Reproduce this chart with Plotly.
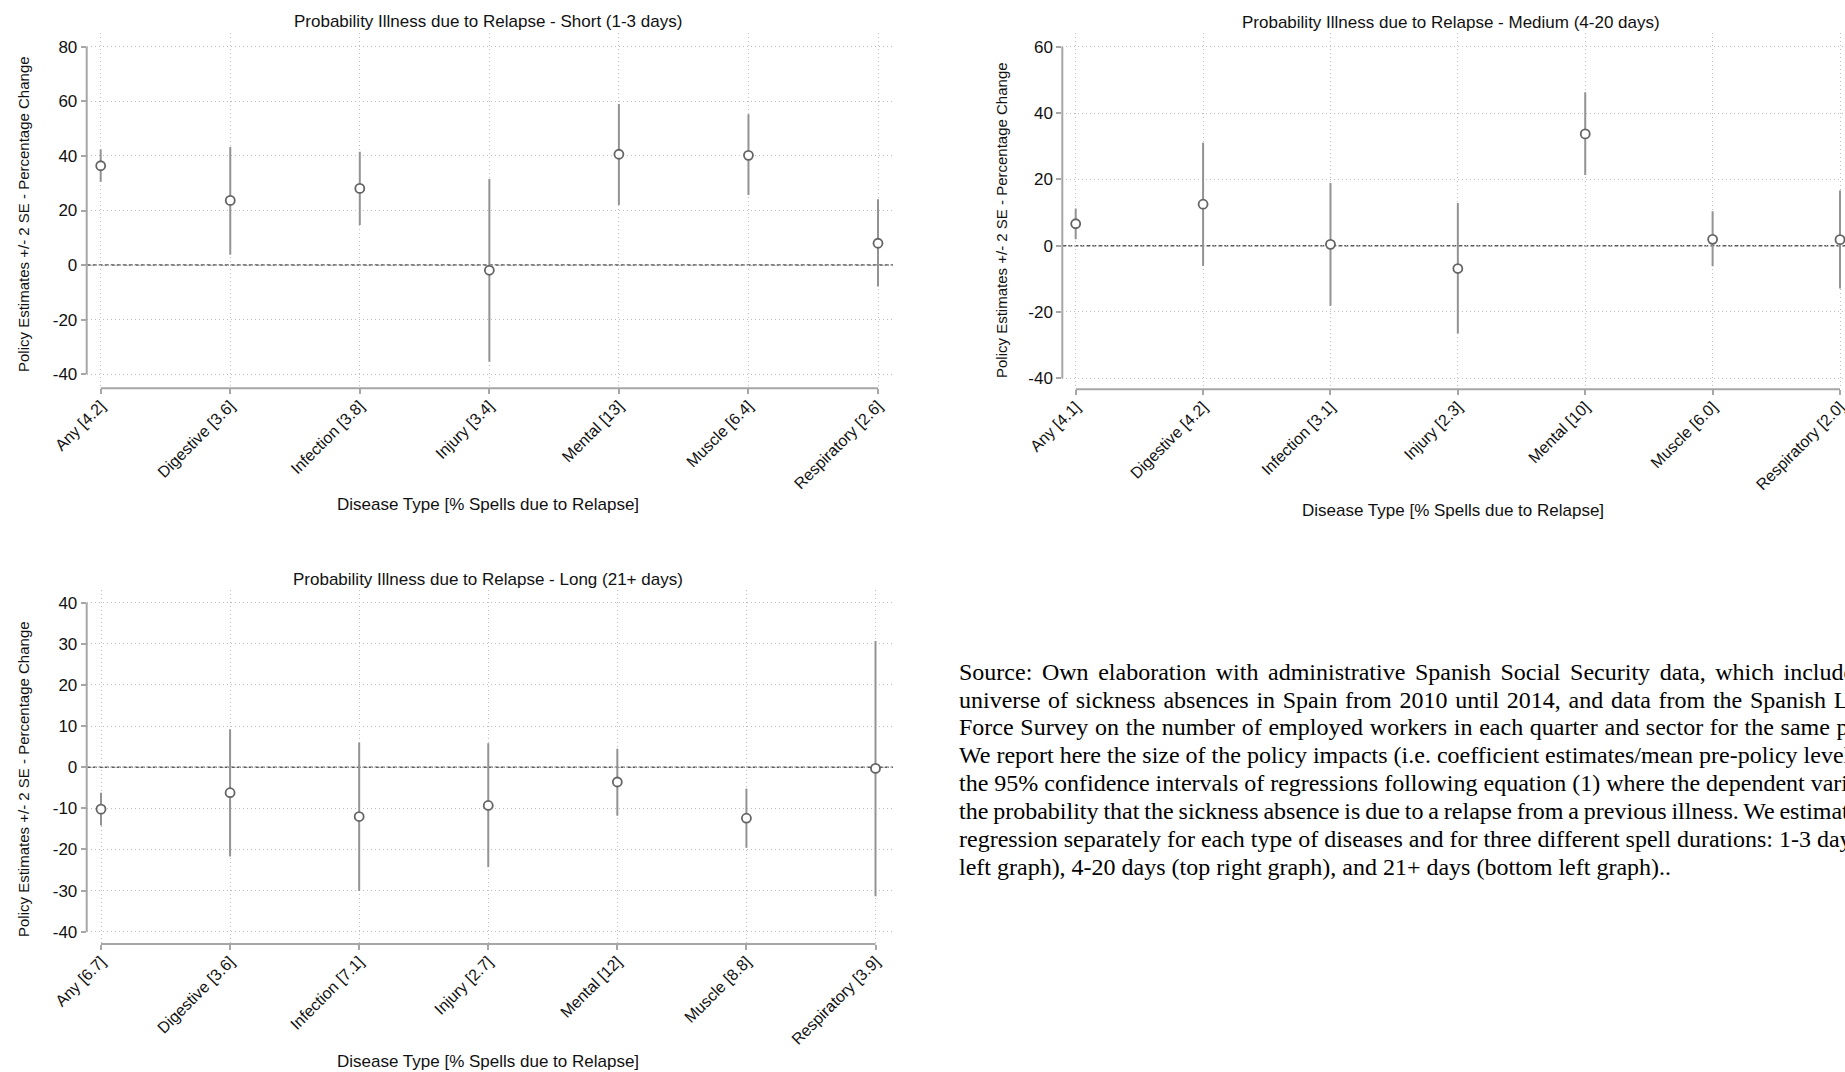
import numpy as np
import plotly.graph_objects as go

W, H = 1845, 1072

# ---------------- data ----------------
positions = [1, 2, 3, 4, 5, 6, 7]

short_labels = ["Any [4.2]", "Digestive [3.6]", "Infection [3.8]", "Injury [3.4]",
                "Mental [13]", "Muscle [6.4]", "Respiratory [2.6]"]
short_est = [36.4, 23.7, 28.1, -1.9, 40.6, 40.2, 8.0]
short_lo = [30.5, 3.8, 14.7, -35.4, 22.0, 25.7, -7.8]
short_hi = [42.3, 43.3, 41.5, 31.5, 59.0, 55.3, 24.1]

medium_labels = ["Any [4.1]", "Digestive [4.2]", "Infection [3.1]", "Injury [2.3]",
                 "Mental [10]", "Muscle [6.0]", "Respiratory [2.0]"]
medium_est = [6.6, 12.5, 0.4, -6.9, 33.7, 1.9, 1.8]
medium_lo = [1.9, -6.1, -18.1, -26.5, 21.3, -6.2, -12.9]
medium_hi = [11.2, 31.0, 18.9, 12.9, 46.3, 10.4, 16.6]

long_labels = ["Any [6.7]", "Digestive [3.6]", "Infection [7.1]", "Injury [2.7]",
               "Mental [12]", "Muscle [8.8]", "Respiratory [3.9]"]
long_est = [-10.2, -6.2, -12.0, -9.3, -3.6, -12.4, -0.3]
long_lo = [-14.2, -21.7, -30.1, -24.3, -11.8, -19.6, -31.4]
long_hi = [-6.2, 9.2, 6.0, 5.8, 4.5, -5.2, 30.7]

short_ticks = [-40, -20, 0, 20, 40, 60, 80]
medium_ticks = [-40, -20, 0, 20, 40, 60]
long_ticks = [-40, -30, -20, -10, 0, 10, 20, 30, 40]

titles = ["Probability Illness due to Relapse - Short (1-3 days)",
          "Probability Illness due to Relapse - Medium (4-20 days)",
          "Probability Illness due to Relapse - Long (21+ days)"]
ytitle = "Policy Estimates +/- 2 SE - Percentage Change"
xtitle = "Disease Type [% Spells due to Relapse]"

note_lines = [
    "Source: Own elaboration with administrative Spanish Social Security data, which includes the",
    "universe of sickness absences in Spain from 2010 until 2014, and data from the Spanish Labour",
    "Force Survey on the number of employed workers in each quarter and sector for the same period.",
    "We report here the size of the policy impacts (i.e. coefficient estimates/mean pre-policy levels) and",
    "the 95% confidence intervals of regressions following equation (1) where the dependent variable is",
    "the probability that the sickness absence is due to a relapse from a previous illness. We estimate the",
    "regression separately for each type of diseases and for three different spell durations: 1-3 days (top",
    "left graph), 4-20 days (top right graph), and 21+ days (bottom left graph)..",
]
note_spacing = [3.6, 1.7, 0.7, 0.0, 0.0, -1.1, 0.0, 0.0]

# ---------------- layout geometry (pixels) ----------------
panels = [
    dict(l=86.7, r=893.0, t=33.0, b=388.3, x1=100.7, x7=878.0, v1=80, p1=46.7, v2=-40, p2=374.3),
    dict(l=1062.3, r=1845.0, t=33.0, b=389.3, x1=1075.7, x7=1840.0, v1=60, p1=46.7, v2=-40, p2=378.3),
    dict(l=86.7, r=893.0, t=590.0, b=944.0, x1=101.0, x7=875.5, v1=40, p1=602.7, v2=-40, p2=931.7),
]
title_pos = [(488, 21), (1451, 22), (488, 579)]
ytitle_pos = [(23, 214), (1002, 220), (23, 779)]
xtitle_pos = [(488, 505), (1453, 510), (488, 1061)]

AXIS_COL = "#a6a6a6"
GRID_COL = "#bdbdbd"
CI_COL = "#939393"
MK_COL = "#646464"
TXT = "#111111"
FONT = "Liberation Sans"

series = [
    (short_labels, short_est, short_lo, short_hi, short_ticks),
    (medium_labels, medium_est, medium_lo, medium_hi, medium_ticks),
    (long_labels, long_est, long_lo, long_hi, long_ticks),
]

fig = go.Figure()
annotations = []
shapes = []

for i, (p, (labels, est, lo, hi, ticks)) in enumerate(zip(panels, series)):
    k = "" if i == 0 else str(i + 1)
    xa, ya = "x" + k, "y" + k
    est_a, lo_a, hi_a = np.array(est), np.array(lo), np.array(hi)
    fig.add_trace(go.Scatter(
        x=positions, y=est, mode="markers", xaxis=xa, yaxis=ya, showlegend=False,
        cliponaxis=False,
        marker=dict(symbol="circle", size=9, color="white",
                    line=dict(color=MK_COL, width=1.8)),
        error_y=dict(type="data", symmetric=False, array=hi_a - est_a,
                     arrayminus=est_a - lo_a, width=0, thickness=2, color=CI_COL),
    ))
    xs = (p["x7"] - p["x1"]) / (positions[-1] - positions[0])
    xr = [positions[0] - (p["x1"] - p["l"]) / xs, positions[0] + (p["r"] - p["x1"]) / xs]
    ys = (p["p2"] - p["p1"]) / (p["v1"] - p["v2"])
    yr = [p["v2"] - (p["b"] - p["p2"]) / ys, p["v1"] + (p["p1"] - p["t"]) / ys]
    xdom = [p["l"] / W, min(1.0, p["r"] / W)]
    ydom = [1 - p["b"] / H, 1 - p["t"] / H]
    xkey = "xaxis" + k
    ykey = "yaxis" + k
    fig.update_layout(**{
        xkey: dict(domain=xdom, range=xr, anchor=ya, tickmode="array",
                   tickvals=positions, ticktext=labels, tickangle=-45,
                   ticks="outside", ticklen=5, tickwidth=1.5, tickcolor=AXIS_COL,
                   ticklabelstandoff=-4, ticklabeloverflow="allow",
                   showline=False, zeroline=False, showgrid=True, griddash="1px,3px",
                   gridcolor=GRID_COL, gridwidth=1, automargin=False,
                   tickfont=dict(family=FONT, size=16, color=TXT)),
        ykey: dict(domain=ydom, range=yr, anchor=xa, tickmode="array",
                   tickvals=ticks, ticktext=[str(t) for t in ticks],
                   ticks="outside", ticklen=5, tickwidth=1.5, tickcolor=AXIS_COL,
                   showline=False, zeroline=False, showgrid=True, griddash="1px,3px",
                   gridcolor=GRID_COL, gridwidth=1, automargin=False,
                   tickfont=dict(family=FONT, size=17, color=TXT)),
    })
    shapes.append(dict(type="line", xref=xa + " domain", yref=ya, x0=0, x1=0,
                       y0=min(ticks), y1=max(ticks), line=dict(color=AXIS_COL, width=2)))
    shapes.append(dict(type="line", xref=xa, yref=ya + " domain", x0=positions[0],
                       x1=positions[-1], y0=0, y1=0, line=dict(color=AXIS_COL, width=2)))
    shapes.append(dict(type="line", xref=xa + " domain", yref=ya, x0=0, x1=1, y0=0, y1=0,
                       line=dict(color="#5a5a5a", width=1.5, dash="4px,2px"), layer="below"))
    tx, ty = title_pos[i]
    annotations.append(dict(text=titles[i], x=tx / W, y=1 - ty / H, xref="paper", yref="paper",
                            xanchor="center", yanchor="middle", showarrow=False,
                            font=dict(family=FONT, size=17, color=TXT)))
    yx, yy = ytitle_pos[i]
    annotations.append(dict(text=ytitle, x=yx / W, y=1 - yy / H, xref="paper", yref="paper",
                            xanchor="center", yanchor="middle", showarrow=False, textangle=-90,
                            font=dict(family=FONT, size=15, color=TXT)))
    xx, xy = xtitle_pos[i]
    annotations.append(dict(text=xtitle, x=xx / W, y=1 - xy / H, xref="paper", yref="paper",
                            xanchor="center", yanchor="middle", showarrow=False,
                            font=dict(family=FONT, size=17, color=TXT)))

note_x = 957
note_y0 = 671.7
note_dy = 27.85
for j, line in enumerate(note_lines):
    txt = line
    if note_spacing[j] != 0:
        txt = '<span style="word-spacing:%.1fpx">%s</span>' % (note_spacing[j], line)
    annotations.append(dict(text=txt, x=note_x / W, y=1 - (note_y0 + j * note_dy) / H,
                            xref="paper", yref="paper", xanchor="left", yanchor="middle",
                            showarrow=False, align="left",
                            font=dict(family="Liberation Serif", size=24, color="#000000")))

fig.update_layout(width=W, height=H, margin=dict(l=0, r=0, t=0, b=0),
                  paper_bgcolor="white", plot_bgcolor="white",
                  annotations=annotations, shapes=shapes, showlegend=False)

fig.write_html("out.html", config={"displayModeBar": False},
               post_script="document.body.style.margin='0';document.body.style.overflow='hidden';")
